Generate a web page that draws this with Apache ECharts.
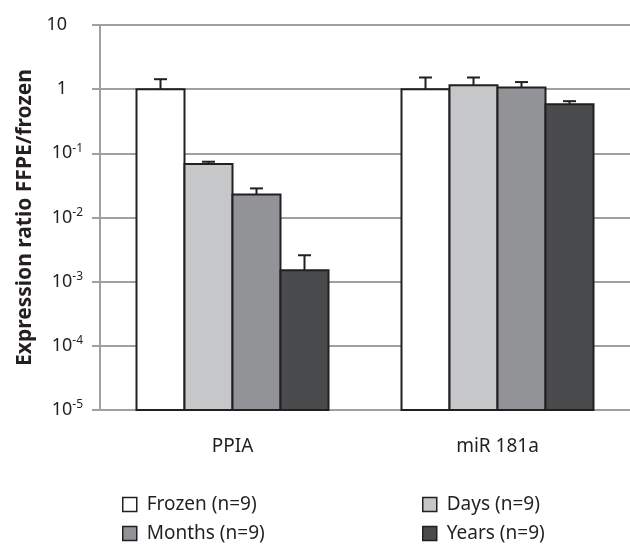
<!DOCTYPE html>
<html>
<head>
<meta charset="utf-8">
<script src="https://cdn.jsdelivr.net/npm/echarts@6/dist/echarts.min.js"></script>
<style>
  html, body { margin: 0; padding: 0; background: #fff; }
  #main { width: 630px; height: 546px; }
</style>
</head>
<body>
<div id="main"></div>
<script>
// genes on the x axis
const categories = ['PPIA', 'miR 181a'];
const seriesNames = ['Frozen (n=9)', 'Days (n=9)', 'Months (n=9)', 'Years (n=9)'];

// expression ratios (bar tops) and upper end of error bar
const frozen = [1.0, 1.0];
const frozenHi = [1.43, 1.52];
const days = [0.068, 1.15];
const daysHi = [0.074, 1.52];
const months = [0.0229, 1.06];
const monthsHi = [0.0284, 1.29];
const years = [0.0015, 0.583];
const yearsHi = [0.00258, 0.65];

const yMin = 1e-5;
const yMax = 10;

const colors = ['#ffffff', '#c6c7c9', '#929396', '#4a4b4d'];
const values = [frozen, days, months, years];
const highs = [frozenHi, daysHi, monthsHi, yearsHi];

const chart = echarts.init(document.getElementById('main'));

const barWidth = 48;
const offsets = [-1.5, -0.5, 0.5, 1.5];

// bars are drawn as custom series so they start from the bottom of the log axis
const series = values.map((v, i) => ({
  name: seriesNames[i],
  type: 'custom',
  data: v.map((val, j) => [j, val, highs[i][j]]),
  itemStyle: { color: colors[i], borderColor: '#231f20', borderWidth: 2 },
  renderItem: function (params, api) {
    const base = api.coord([api.value(0), yMin]);
    const top = api.coord([api.value(0), api.value(1)]);
    const hi = api.coord([api.value(0), api.value(2)]);
    const cx = top[0] + offsets[i] * barWidth;
    const line = { stroke: '#231f20', lineWidth: 2 };
    return {
      type: 'group',
      children: [
        {
          type: 'rect',
          shape: { x: cx - barWidth / 2, y: top[1], width: barWidth, height: base[1] - top[1] },
          style: { fill: colors[i], stroke: '#231f20', lineWidth: 2 },
        },
        { type: 'line', shape: { x1: cx, y1: top[1], x2: cx, y2: hi[1] }, style: line },
        { type: 'line', shape: { x1: cx - 6.5, y1: hi[1], x2: cx + 6.5, y2: hi[1] }, style: line },
      ],
    };
  },
}));

function tickLabel(val) {
  const e = Math.round(Math.log10(val));
  if (e === 1) return '{p|10}';
  if (e === 0) return '{p|1}';
  return '10{s|' + e + '}';
}

const legendPos = [[117, 490], [417, 490], [117, 519], [417, 519]];
const legends = seriesNames.map((n, i) => ({
  data: [n],
  left: legendPos[i][0],
  top: legendPos[i][1],
  itemWidth: 14,
  itemHeight: 14,
  icon: 'rect',
  itemStyle: { color: colors[i], borderColor: '#231f20', borderWidth: 1.5 },
  textStyle: {
    color: '#231f20',
    fontSize: 19,
    fontFamily: 'Noto Sans',
    padding: [0, 0, 0, 5],
  },
}));

const option = {
  backgroundColor: '#fff',
  animation: false,
  grid: { left: 100, right: 0, top: 25, bottom: 136 },
  legend: legends,
  xAxis: {
    type: 'category',
    data: categories,
    axisLine: { lineStyle: { color: '#a0a0a2', width: 2 } },
    axisTick: { length: 8, lineStyle: { color: '#a0a0a2', width: 2 } },
    axisLabel: {
      color: '#231f20',
      fontSize: 19,
      fontFamily: 'Noto Sans',
      margin: 27,
    },
  },
  yAxis: {
    type: 'log',
    logBase: 10,
    min: yMin,
    max: yMax,
    name: 'Expression ratio FFPE/frozen',
    nameLocation: 'middle',
    nameRotate: 90,
    nameGap: 64,
    nameTextStyle: {
      color: '#231f20',
      fontSize: 21,
      fontWeight: 'bold',
      fontFamily: 'Noto Sans',
    },
    axisLine: { show: true, lineStyle: { color: '#a0a0a2', width: 2 } },
    axisTick: { show: true, length: 8, lineStyle: { color: '#a0a0a2', width: 2 } },
    splitLine: { show: true, lineStyle: { color: '#a0a0a2', width: 2 } },
    axisLabel: {
      color: '#231f20',
      fontSize: 18,
      fontFamily: 'Noto Sans',
      margin: 17,
      formatter: tickLabel,
      rich: {
        p: { fontSize: 18, padding: [0, 16, 0, 0], fontFamily: 'Noto Sans', color: '#231f20' },
        s: { fontSize: 12, verticalAlign: 'top', padding: [0, 0, 10, 0], fontFamily: 'Noto Sans', color: '#231f20' },
      },
    },
  },
  series: series,
};

chart.setOption(option);
</script>
</body>
</html>
